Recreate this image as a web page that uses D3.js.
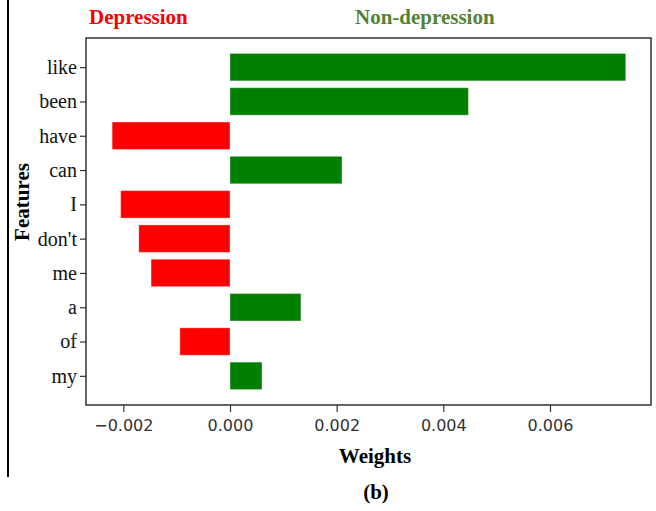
<!DOCTYPE html>
<html>
<head>
<meta charset="utf-8">
<script src="https://cdn.jsdelivr.net/npm/d3@7"></script>
<style>
  html, body { margin: 0; padding: 0; background: #fff; }
  svg { display: block; }
</style>
</head>
<body>
<svg id="chart" width="656" height="511"></svg>
<script>
// Feature weights (top row first)
const features = ["like", "been", "have", "can", "I", "don't", "me", "a", "of", "my"];
const weights = [0.00742, 0.00447, -0.00221, 0.00210, -0.00205, -0.00171, -0.00148, 0.00133, -0.00094, 0.00060];
const xTicks = [-0.002, 0.000, 0.002, 0.004, 0.006];
const classLabels = ["Depression", "Non-depression"];

const svg = d3.select("#chart");
const plot = { left: 86, right: 651, top: 38, bottom: 405 };

const serif = "'Liberation Serif', 'Times New Roman', serif";
const sans = "'DejaVu Sans', sans-serif";

const x = d3.scaleLinear().domain([-0.0027, 0.007894]).range([plot.left, plot.right]);
const y = d3.scaleLinear().domain([-0.85, 9.85]).range([plot.top, plot.bottom]);
const barH = 0.8;

// vertical rule on the left of the figure
svg.append("line")
  .attr("x1", 8).attr("x2", 8).attr("y1", 0).attr("y2", 477)
  .attr("stroke", "#000").attr("stroke-width", 2);

// bars
svg.append("g").selectAll("rect")
  .data(features.map((f, i) => ({ f, i, v: weights[i] })))
  .join("rect")
  .attr("x", d => x(Math.min(0, d.v)))
  .attr("width", d => Math.abs(x(d.v) - x(0)))
  .attr("y", d => y(d.i - barH / 2))
  .attr("height", d => y(d.i + barH / 2) - y(d.i - barH / 2))
  .attr("fill", d => d.v < 0 ? "#ff0000" : "#008000")
  .attr("stroke", "#ffffff").attr("stroke-opacity", 0.35).attr("stroke-width", 1);

// frame
svg.append("rect")
  .attr("x", plot.left).attr("y", plot.top)
  .attr("width", plot.right - plot.left).attr("height", plot.bottom - plot.top)
  .attr("fill", "none").attr("stroke", "#333").attr("stroke-width", 1.5);

// x axis
const xAxis = d3.axisBottom(x).tickValues(xTicks)
  .tickFormat(d => d3.format(".3f")(d).replace("-", "\u2212"))
  .tickSize(7).tickPadding(8);
const gx = svg.append("g").attr("transform", `translate(0,${plot.bottom})`).call(xAxis);
gx.select(".domain").remove();
gx.selectAll(".tick line").attr("stroke", "#333").attr("stroke-width", 1.2);
gx.selectAll(".tick text")
  .attr("font-family", sans).attr("font-size", 16).attr("fill", "#333");

// y axis
const yAxis = d3.axisLeft(y).tickValues(d3.range(features.length))
  .tickFormat(i => features[i]).tickSize(6).tickPadding(3);
const gy = svg.append("g").attr("transform", `translate(${plot.left},0)`).call(yAxis);
gy.select(".domain").remove();
gy.selectAll(".tick line").attr("stroke", "#333").attr("stroke-width", 1.2);
gy.selectAll(".tick text")
  .attr("font-family", serif).attr("font-size", 20).attr("fill", "#111");

// axis titles
svg.append("text")
  .attr("x", 375).attr("y", 463)
  .attr("text-anchor", "middle")
  .attr("font-family", serif).attr("font-weight", "bold").attr("font-size", 21)
  .attr("fill", "#000").text("Weights");

svg.append("text")
  .attr("transform", "translate(29,202) rotate(-90)")
  .attr("text-anchor", "middle")
  .attr("font-family", serif).attr("font-weight", "bold").attr("font-size", 21)
  .attr("fill", "#000").text("Features");

// class labels
svg.append("text")
  .attr("x", 89).attr("y", 24)
  .attr("font-family", serif).attr("font-weight", "bold").attr("font-size", 21)
  .attr("fill", "#ff0000").text(classLabels[0]);
svg.append("text")
  .attr("x", 355).attr("y", 24)
  .attr("font-family", serif).attr("font-weight", "bold").attr("font-size", 21)
  .attr("fill", "#548235").text(classLabels[1]);

// panel caption
svg.append("text")
  .attr("x", 376).attr("y", 499)
  .attr("text-anchor", "middle")
  .attr("font-family", serif).attr("font-weight", "bold").attr("font-size", 21)
  .attr("fill", "#000").text("(b)");
</script>
</body>
</html>
